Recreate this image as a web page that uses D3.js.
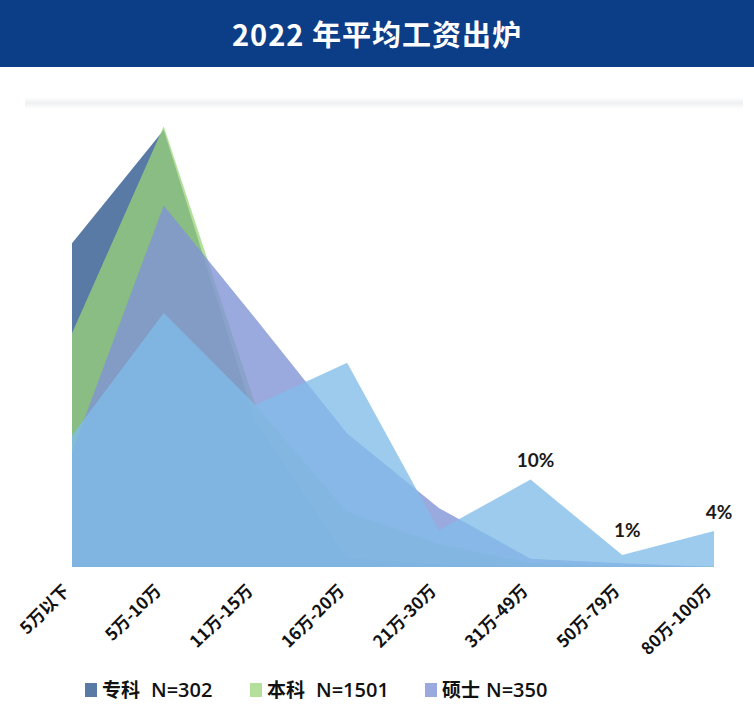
<!DOCTYPE html>
<html><head><meta charset="utf-8">
<script src="https://cdn.jsdelivr.net/npm/d3@7"></script>
<style>html,body{margin:0;padding:0;background:#fff;}</style>
</head><body>
<svg id="chart" width="754" height="722"></svg>
<script>
const title = "2022 年平均工资出炉";
const categories = ["5万以下","5万-10万","11万-15万","16万-20万","21万-30万","31万-49万","50万-79万","80万-100万"];
const zhuanke = [35.2, 47.5, 15.8, 1.0, 0.3, 0.1, 0, 0];
const benke   = [25.4, 47.9, 17.6, 6.0, 2.5, 0.4, 0.1, 0.1];
const shuoshi = [12.5, 39.3, 27.0, 14.5, 6.4, 0.9, 0.4, 0];
const boshi   = [14.3, 27.6, 17.6, 22.2, 4.0, 9.5, 1.3, 3.9];
const seriesNames = ["专科","本科","硕士","博士"];
const legendNames = ["专科","本科","硕士"];
const legendN = ["N=302","N=1501","N=350"];
const labelIdx = [5, 6, 7];
const labelText = ["10%", "1%", "4%"];
const labelDy = [-13, -18, -12];

const svg = d3.select("#chart");
const W = 754, H = 722;

// background
svg.append("rect").attr("width", W).attr("height", H).attr("fill", "#ffffff");
const defs = svg.append("defs");
const g1 = defs.append("linearGradient").attr("id","shadow").attr("x1",0).attr("y1",0).attr("x2",0).attr("y2",1);
g1.append("stop").attr("offset","0%").attr("stop-color","#ffffff");
g1.append("stop").attr("offset","50%").attr("stop-color","#eef0f2");
g1.append("stop").attr("offset","100%").attr("stop-color","#ffffff");
svg.append("rect").attr("x", 25).attr("y", 97).attr("width", 718).attr("height", 12).attr("fill","url(#shadow)");

// title bar
svg.append("rect").attr("x", 0).attr("y", 0).attr("width", W).attr("height", 67).attr("fill", "#0c3e87");
svg.append("text").attr("x", 377).attr("y", 46).attr("text-anchor","middle")
  .attr("font-family","'Noto Sans CJK SC','Noto Sans',sans-serif").attr("font-weight","bold")
  .attr("font-size", 29).attr("fill","#ffffff").attr("letter-spacing", 1).text(title);

// scales
const x = d3.scalePoint().domain(categories).range([72, 714]);
const y = d3.scaleLinear().domain([0, 50]).range([567, 107]);

const series = [
  {name: seriesNames[0], values: zhuanke, color: "#587aa4", op: 1},
  {name: seriesNames[1], values: benke,   color: "#99d478", op: 0.75},
  {name: seriesNames[2], values: shuoshi, color: "#8193d6", op: 0.8},
  {name: seriesNames[3], values: boshi,   color: "#82bde9", op: 0.78}
];

const area = d3.area()
  .x((d, i) => x(categories[i]))
  .y0(y(0))
  .y1(d => y(d));

svg.append("g").selectAll("path").data(series).join("path")
  .attr("d", d => area(d.values))
  .attr("fill", d => d.color)
  .attr("fill-opacity", d => d.op);

// data labels
svg.append("g").selectAll("text").data(labelIdx).join("text")
  .attr("x", (d) => x(categories[d]) + 5)
  .attr("y", (d, i) => y(boshi[d]) + labelDy[i])
  .attr("text-anchor", "middle")
  .attr("font-family", "Lato, 'Open Sans', sans-serif")
  .attr("font-weight", "bold").attr("font-size", 19).attr("fill", "#1a1a1a")
  .text((d, i) => labelText[i]);

// x axis labels
const xAxis = d3.axisBottom(x).tickSize(0).tickPadding(0);
const ax = svg.append("g").attr("transform", "translate(0,567)").call(xAxis);
ax.select(".domain").remove();
ax.selectAll("text")
  .attr("font-family", "'Noto Sans CJK SC', sans-serif")
  .attr("font-size", 17).attr("font-weight", "bold").attr("fill", "#111")
  .attr("text-anchor", "end")
  .attr("dy", 0)
  .attr("transform", "translate(-2,25) rotate(-45)");

// legend
const legX = [85, 250, 425];
const leg = svg.append("g").selectAll("g").data(legendNames).join("g")
  .attr("transform", (d, i) => `translate(${legX[i]},690)`);
leg.append("rect").attr("x", 0).attr("y", -7).attr("width", 12).attr("height", 14)
  .attr("fill", (d, i) => series[i].color).attr("fill-opacity", (d, i) => series[i].op);
leg.append("text").attr("x", 17).attr("y", 7)
  .attr("font-family", "'Noto Sans CJK SC', sans-serif").attr("font-weight", "bold")
  .attr("font-size", 19).attr("fill", "#111").text(d => d);
leg.append("text").attr("x", (d, i) => i === 2 ? 61 : 66).attr("y", 7)
  .attr("font-family", "'Open Sans', sans-serif").attr("font-weight", 600)
  .attr("font-size", 20).attr("fill", "#111").text((d, i) => legendN[i]);
</script>
</body></html>
